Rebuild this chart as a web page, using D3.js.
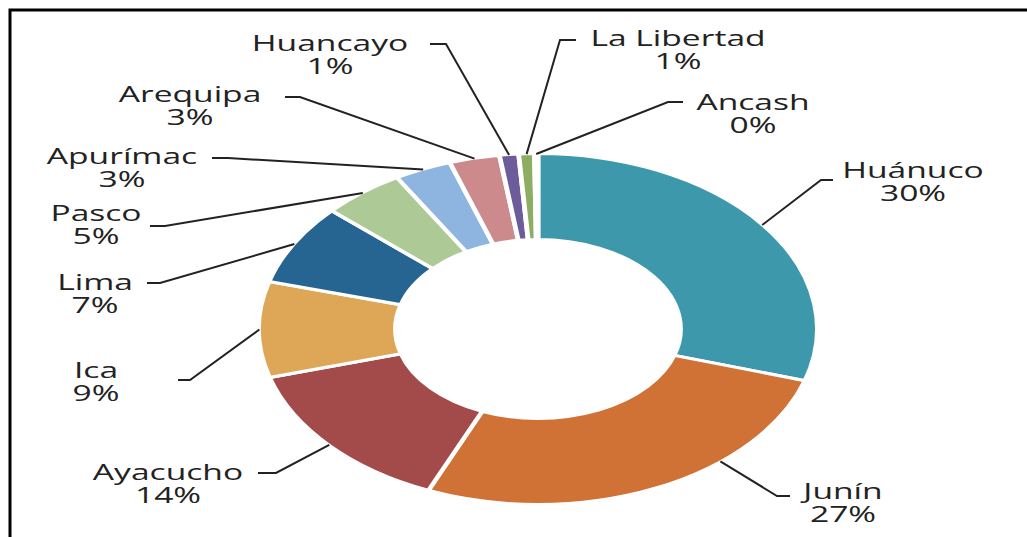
<!DOCTYPE html>
<meta charset="utf-8">
<head>
    <script src="https://d3js.org/d3.v7.min.js"></script>
    <style>
        body { margin: 0; background: #fff; }
        text { font-family: "Open Sans", sans-serif; fill: #222; }
    </style>
</head>
<body>
<div id="chartContainer"></div>
<script type="text/javascript">

    // slice data, clockwise from 12 o'clock
    var categories = ["Huánuco", "Junín", "Ayacucho", "Ica", "Lima", "Pasco",
                      "Apurímac", "Arequipa", "Huancayo", "La Libertad", "Ancash"];
    var values = [29.7, 26.6, 14.1, 8.8, 7.4, 4.8, 3.3, 2.9, 1.1, 0.9, 0.2];
    var pctLabels = ["30%", "27%", "14%", "9%", "7%", "5%", "3%", "3%", "1%", "1%", "0%"];
    var colors = ["#3d98ab", "#d07235", "#a34a4a", "#dda757", "#266592", "#adca96",
                  "#8db5e0", "#cc8a8c", "#6c5c9a", "#8dad62", "#5b8bc0"];

    // label placement (text centre, first baseline, leader start / elbow, leader y, angle nudge)
    var labelLayout = [
        {tx: 913, ty: 178, hx0: 833, hx1: 821, hy: 180, nudge: 0},
        {tx: 843, ty: 499, hx0: 790, hx1: 777, hy: 496, nudge: -16},
        {tx: 168, ty: 480, hx0: 258, hx1: 276, hy: 473, nudge: 0},
        {tx: 96,  ty: 378, hx0: 178, hx1: 190, hy: 380, nudge: 0},
        {tx: 95,  ty: 290, hx0: 147, hx1: 160, hy: 283, nudge: 0},
        {tx: 96,  ty: 221, hx0: 150, hx1: 165, hy: 226, nudge: 0},
        {tx: 122, ty: 164, hx0: 212, hx1: 228, hy: 158, nudge: 0},
        {tx: 190, ty: 102, hx0: 285, hx1: 300, hy: 97,  nudge: 0},
        {tx: 330, ty: 51,  hx0: 430, hx1: 446, hy: 44,  nudge: 0},
        {tx: 678, ty: 46,  hx0: 576, hx1: 560, hy: 40,  nudge: 0},
        {tx: 753, ty: 110, hx0: 683, hx1: 668, hy: 102, nudge: 0}
    ];

    var W = 1027, H = 537;
    var cx = 538, cy = 329;
    var sx = 1.592;          // the source picture is stretched sideways
    var outerR = 175.5, innerR = 89.5;

    var svg = d3.select("#chartContainer").append("svg")
        .attr("width", W).attr("height", H);

    // frame (only top and left edges are in view)
    svg.append("path")
        .attr("d", "M10," + H + "V10H" + W)
        .attr("fill", "none")
        .attr("stroke", "#000")
        .attr("stroke-width", 3);

    var data = categories.map(function (c, i) {
        return {name: c, value: values[i], pct: pctLabels[i], color: colors[i], lay: labelLayout[i]};
    });

    var pie = d3.pie().sort(null).value(function (d) { return d.value; });
    var arcs = pie(data);
    var arc = d3.arc().innerRadius(innerR).outerRadius(outerR);

    var g = svg.append("g")
        .attr("transform", "translate(" + cx + "," + cy + ") scale(" + sx + ",1)");

    g.selectAll("path.slice")
        .data(arcs)
        .enter().append("path")
        .attr("class", "slice")
        .attr("d", arc)
        .attr("fill", function (d) { return d.data.color; })
        .attr("stroke", "#fff")
        .attr("stroke-width", 3);

    // leader lines
    arcs.forEach(function (d) {
        var lay = d.data.lay;
        var a = (d.startAngle + d.endAngle) / 2 + lay.nudge * Math.PI / 180;
        var r = outerR - 0.5;
        var px = cx + sx * r * Math.sin(a);
        var py = cy - r * Math.cos(a);
        svg.append("path")
            .attr("d", "M" + lay.hx0 + "," + lay.hy + "L" + lay.hx1 + "," + lay.hy + "L" + px + "," + py)
            .attr("fill", "none")
            .attr("stroke", "#222")
            .attr("stroke-width", 2);

        var t = svg.append("text")
            .attr("transform", "translate(" + lay.tx + "," + lay.ty + ") scale(1.6,1)")
            .attr("text-anchor", "middle")
            .style("font-size", "21px");
        t.append("tspan").attr("x", 0).attr("y", 0).text(d.data.name);
        t.append("tspan").attr("x", 0).attr("y", 23).text(d.data.pct);
    });

</script>
</body>
</html>
